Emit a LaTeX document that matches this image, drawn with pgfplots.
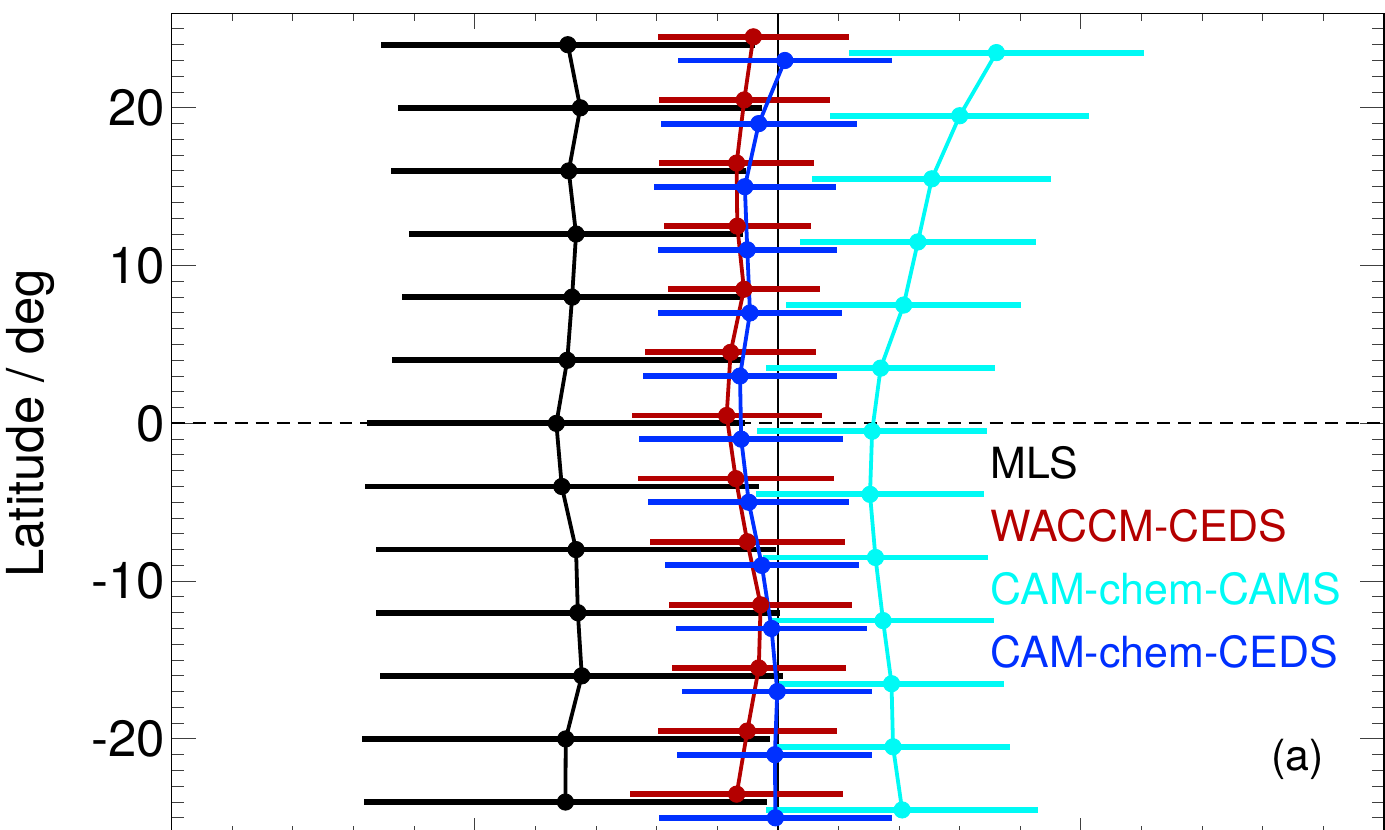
\documentclass[border=0pt]{standalone}
\usepackage{pgfplots}
\pgfplotsset{compat=1.18}
\usepackage{fontspec}
\setmainfont{TeX Gyre Heros}
\usetikzlibrary{calc}

\definecolor{waccm}{RGB}{180,0,0}
\definecolor{camsc}{RGB}{0,250,245}
\definecolor{cedsb}{RGB}{0,48,255}

\pgfplotsset{
  latprof/.style={line width=1.9pt, mark=*, mark size=4.1pt,
    mark options={solid, line width=0.4pt, fill=#1, draw=#1}, color=#1,
    error bars/.cd, x dir=both, x explicit, error mark=none,
    error bar style={line width=2.9pt, color=#1}},
}

\begin{document}
\begin{tikzpicture}
\begin{axis}[
  name=ax,
  scale only axis,
  width=607pt, height=410.8pt,
  xmin=-2, xmax=2, ymin=-26, ymax=26,
  xtick={-2,-1,0,1,2}, minor x tick num=4, xticklabels={},
  ytick={-30,-20,-10,0,10,20,30},
  yticklabels={-30,-20,-10,0,10,20,30},
  minor y tick num=9,
  tick align=inside, tick pos=both,
  major tick length=12pt, minor tick length=6pt,
  every major x tick/.append style={/pgfplots/major tick length=8pt},
  every minor x tick/.append style={/pgfplots/minor tick length=4pt},
  tick style={line width=0.5pt, black!75},
  axis line style={line width=0.6pt, black},
  yticklabel style={font=\fontsize{25.5}{30}\selectfont},
  ylabel={Latitude / deg},
  ylabel style={font=\fontsize{25.5}{30}\selectfont, at={(axis description cs:-0.1054,0.5)}, anchor=base},
  clip=false,
]
% reference lines
\addplot[black, line width=1.2pt, forget plot] coordinates {(0,-26) (0,26)};
\addplot[black, line width=1pt, dash pattern=on 6.5pt off 4pt, forget plot] coordinates {(-2,0) (2,0)};

% MLS
\addplot[latprof=black] coordinates {
  (-0.693,24) +- (0.616,0)
  (-0.652,20) +- (0.600,0)
  (-0.690,16) +- (0.586,0)
  (-0.666,12) +- (0.550,0)
  (-0.679,8) +- (0.562,0)
  (-0.695,4) +- (0.577,0)
  (-0.731,0) +- (0.624,0)
  (-0.713,-4) +- (0.650,0)
  (-0.666,-8) +- (0.659,0)
  (-0.660,-12) +- (0.666,0)
  (-0.647,-16) +- (0.665,0)
  (-0.700,-20) +- (0.673,0)
  (-0.701,-24) +- (0.666,0)
};

% WACCM-CEDS
\addplot[latprof=waccm] coordinates {
  (-0.081,24.5) +- (0.315,0)
  (-0.111,20.5) +- (0.282,0)
  (-0.136,16.5) +- (0.256,0)
  (-0.134,12.5) +- (0.242,0)
  (-0.112,8.5) +- (0.250,0)
  (-0.156,4.5) +- (0.283,0)
  (-0.169,0.5) +- (0.314,0)
  (-0.139,-3.5) +- (0.324,0)
  (-0.101,-7.5) +- (0.321,0)
  (-0.057,-11.5) +- (0.302,0)
  (-0.063,-15.5) +- (0.287,0)
  (-0.101,-19.5) +- (0.296,0)
  (-0.136,-23.5) +- (0.352,0)
};

% CAM-chem-CAMS
\addplot[latprof=camsc] coordinates {
  (0.721,23.5) +- (0.488,0)
  (0.600,19.5) +- (0.428,0)
  (0.508,15.5) +- (0.394,0)
  (0.462,11.5) +- (0.390,0)
  (0.415,7.5) +- (0.388,0)
  (0.339,3.5) +- (0.377,0)
  (0.311,-0.5) +- (0.379,0)
  (0.304,-4.5) +- (0.376,0)
  (0.322,-8.5) +- (0.371,0)
  (0.347,-12.5) +- (0.366,0)
  (0.375,-16.5) +- (0.372,0)
  (0.380,-20.5) +- (0.386,0)
  (0.410,-24.5) +- (0.449,0)
};

% CAM-chem-CEDS
\addplot[latprof=cedsb] coordinates {
  (0.023,23) +- (0.352,0)
  (-0.063,19) +- (0.323,0)
  (-0.109,15) +- (0.301,0)
  (-0.101,11) +- (0.296,0)
  (-0.092,7) +- (0.305,0)
  (-0.125,3) +- (0.320,0)
  (-0.121,-1) +- (0.336,0)
  (-0.096,-5) +- (0.331,0)
  (-0.053,-9) +- (0.321,0)
  (-0.021,-13) +- (0.316,0)
  (-0.002,-17) +- (0.313,0)
  (-0.010,-21) +- (0.322,0)
  (-0.008,-25) +- (0.383,0)
};

\begin{scope}[every node/.style={anchor=base west, inner sep=0pt, font=\fontsize{21.5}{25}\selectfont}]
\node[text=black] at (axis cs:0.701,-3.5) {MLS};
\node[text=waccm] at (axis cs:0.701,-7.5) {WACCM-CEDS};
\node[text=camsc] at (axis cs:0.701,-11.5) {CAM-chem-CAMS};
\node[text=cedsb] at (axis cs:0.701,-15.5) {CAM-chem-CEDS};
\node[text=black] at (axis cs:1.627,-22.0) {(a)};
\end{scope}
\end{axis}
\pgfresetboundingbox
\path[use as bounding box] ($(ax.south west)+(-86pt,1.9pt)$) rectangle ($(ax.north east)+(0.5pt,6.6pt)$);
\end{tikzpicture}
\end{document}
